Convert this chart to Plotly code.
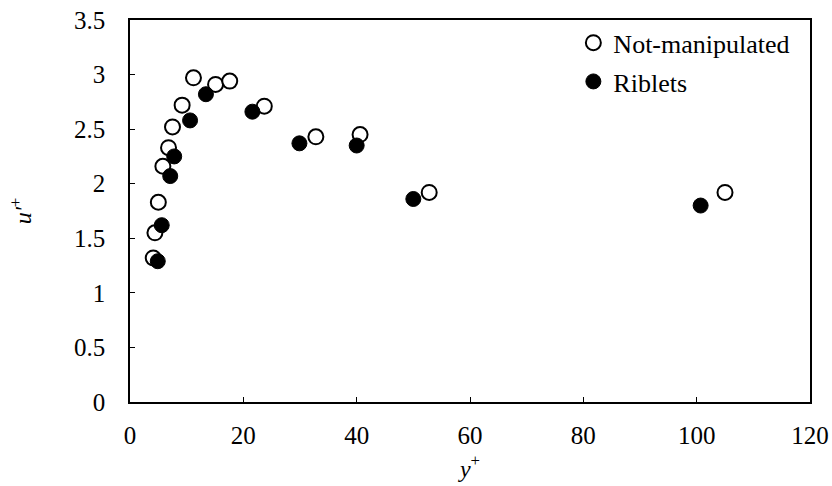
import plotly.graph_objects as go

# Not-manipulated series
nm_x = [4.1, 4.4, 5.0, 5.8, 6.8, 7.5, 9.2, 11.2, 15.1, 17.6, 23.7, 32.8, 40.6, 52.8, 105.0]
nm_y = [1.32, 1.55, 1.83, 2.16, 2.33, 2.52, 2.72, 2.97, 2.91, 2.94, 2.71, 2.43, 2.45, 1.92, 1.92]

# Riblets series
rb_x = [4.9, 5.6, 7.1, 7.8, 10.6, 13.4, 21.6, 29.9, 40.0, 50.0, 100.7]
rb_y = [1.29, 1.62, 2.07, 2.25, 2.58, 2.82, 2.66, 2.37, 2.35, 1.86, 1.80]

x_ticks = [0, 20, 40, 60, 80, 100, 120]
x_labels = ["0", "20", "40", "60", "80", "100", "120"]
y_ticks = [0, 0.5, 1, 1.5, 2, 2.5, 3, 3.5]
y_labels = ["0", "0.5", "1", "1.5", "2", "2.5", "3", "3.5"]

FONT = "Liberation Serif, Times New Roman, serif"

fig = go.Figure()
fig.add_trace(go.Scatter(
    x=nm_x, y=nm_y, mode="markers", name="Not-manipulated",
    marker=dict(symbol="circle", size=15, color="white", line=dict(color="black", width=2)),
    legendgroup="a",
))
fig.add_trace(go.Scatter(
    x=rb_x, y=rb_y, mode="markers", name="Riblets",
    marker=dict(symbol="circle", size=15, color="black", line=dict(color="black", width=1)),
    legendgroup="b",
))

axis_common = dict(
    showgrid=False, zeroline=False, showline=True, linecolor="black", linewidth=1.5,
    mirror=True, ticks="inside", ticklen=5, tickwidth=1, tickcolor="black",
    tickfont=dict(family=FONT, size=25, color="black"), automargin=False,
)

fig.update_layout(
    width=832, height=486,
    margin=dict(l=130, r=22, t=20, b=84),
    paper_bgcolor="white", plot_bgcolor="white",
    font=dict(family=FONT, size=25, color="black"),
    xaxis=dict(range=[0, 120], tickvals=x_ticks, ticktext=x_labels, ticklabelstandoff=10,
               title=dict(text="<i>y</i><sup>+</sup>", font=dict(family=FONT, size=24), standoff=12),
               **axis_common),
    yaxis=dict(range=[0, 3.5], tickvals=y_ticks, ticktext=y_labels, ticklabelstandoff=18,
               title=dict(text="<i>u'</i><sup>+</sup>", font=dict(family=FONT, size=24), standoff=36),
               **axis_common),
    legend=dict(x=0.652, y=1.002, xanchor="left", yanchor="top", bgcolor="rgba(0,0,0,0)",
                borderwidth=0, font=dict(family=FONT, size=26, color="black"),
                traceorder="grouped", tracegroupgap=2, itemwidth=30),
    showlegend=True,
)

fig.write_html("out.html")
